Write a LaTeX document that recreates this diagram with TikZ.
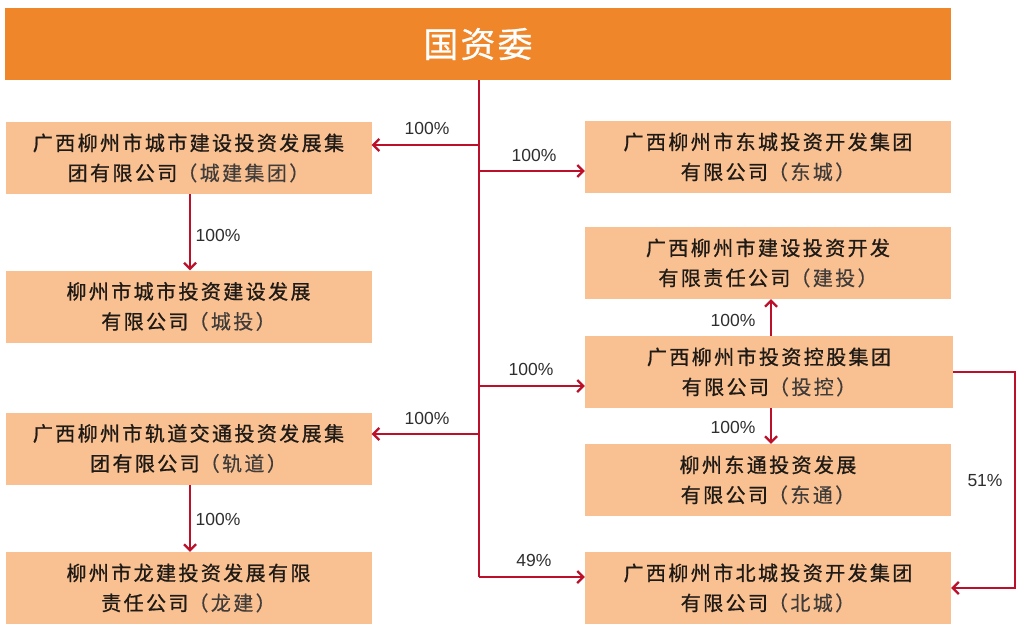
\documentclass[tikz,border=0pt]{standalone}
\usepackage{fontspec}
\usetikzlibrary{arrows.meta}
\newfontfamily\cjk[LetterSpace=12,FakeBold=0.9]{Noto Sans CJK SC}
\newfontfamily\cjklight[LetterSpace=12,FakeBold=0.3]{Noto Sans CJK SC}
\newfontfamily\cjktitle[LetterSpace=6,FakeBold=0.6]{Noto Sans CJK SC}
\newfontfamily\pctfont{Liberation Sans}
\definecolor{barorange}{HTML}{F0862A}
\definecolor{boxfill}{HTML}{F9C092}
\definecolor{arrred}{HTML}{BC0F2A}
\definecolor{txt}{HTML}{1E1A16}
\newcommand{\pn}[1]{{\cjklight\textcolor{txt!85}{#1}}}
\tikzset{
  cobox/.style={fill=boxfill, draw=none, minimum width=366pt, minimum height=72pt,
    align=center, inner sep=0pt, text=txt, font=\cjk\fontsize{20}{30}\selectfont},
  arr/.style={draw=arrred, line width=2.6pt, -{Straight Barb[length=6pt,width=12pt,line width=2.2pt]}},
  line/.style={draw=arrred, line width=2.6pt},
  pct/.style={font=\pctfont\fontsize{17.5}{17.5}\selectfont, text=black!82, inner sep=0pt}
}
\begin{document}
\begin{tikzpicture}[x=1pt,y=-1pt]
\useasboundingbox[fill=white] (0,0) rectangle (1022,629);
% top bar
\node[fill=barorange, minimum width=946pt, minimum height=72pt, inner sep=0pt,
  text=white, font=\cjktitle\fontsize{35}{35}\selectfont] (top) at (478,44) {国资委};
% left boxes
\node[cobox] (cj) at (188.5,158) {广西柳州市城市建设投资发展集\\团有限公司\pn{（城建集团）}};
\node[cobox] (ct) at (188.5,306.5) {柳州市城市投资建设发展\\有限公司\pn{（城投）}};
\node[cobox] (gd) at (188.5,448.5) {广西柳州市轨道交通投资发展集\\团有限公司\pn{（轨道）}};
\node[cobox] (lj) at (188.5,588) {柳州市龙建投资发展有限\\责任公司\pn{（龙建）}};
% right boxes
\node[cobox] (dc) at (768,157) {广西柳州市东城投资开发集团\\有限公司\pn{（东城）}};
\node[cobox] (jt) at (768,263) {广西柳州市建设投资开发\\有限责任公司\pn{（建投）}};
\node[cobox, minimum width=368pt] (tk) at (769,372) {广西柳州市投资控股集团\\有限公司\pn{（投控）}};
\node[cobox] (dt) at (768,480) {柳州东通投资发展\\有限公司\pn{（东通）}};
\node[cobox] (bc) at (768,588) {广西柳州市北城投资开发集团\\有限公司\pn{（北城）}};
% trunk
\coordinate (t0) at (479,80);
\coordinate (t1) at (479,145);
\coordinate (t2) at (479,171);
\coordinate (t3) at (479,386);
\coordinate (t4) at (479,434);
\coordinate (t5) at (479,577);
\draw[line] (t0) -- (t5);
\draw[arr] (t1) -- (t1 -| cj.east);
\draw[arr] (t2) -- (t2 -| dc.west);
\draw[arr] (t3) -- (t3 -| tk.west);
\draw[arr] (t4) -- (t4 -| gd.east);
\draw[arr] (t5) -- (t5 -| bc.west);
% verticals
\draw[arr] (cj.south -| 190,0) -- (ct.north -| 190,0);
\draw[arr] (gd.south -| 190,0) -- (lj.north -| 190,0);
\draw[arr] (tk.north -| 771,0) -- (jt.south -| 771,0);
\draw[arr] (tk.south -| 771,0) -- (dt.north -| 771,0);
% 51%
\coordinate (r1) at (1015,372);
\draw[arr] (tk.east) -- (r1) |- (bc.east);
% labels
\node[pct] (p1) at (427,128) {100\%};
\node[pct] (p2) at (534,155) {100\%};
\node[pct] (p3) at (218,235) {100\%};
\node[pct] (p4) at (733,320) {100\%};
\node[pct] (p5) at (531,369) {100\%};
\node[pct] (p6) at (427,418) {100\%};
\node[pct] (p7) at (733,427) {100\%};
\node[pct] (p8) at (985,481) {51\%};
\node[pct] (p9) at (218,519) {100\%};
\node[pct] (p10) at (534,560) {49\%};
\end{tikzpicture}
\end{document}
